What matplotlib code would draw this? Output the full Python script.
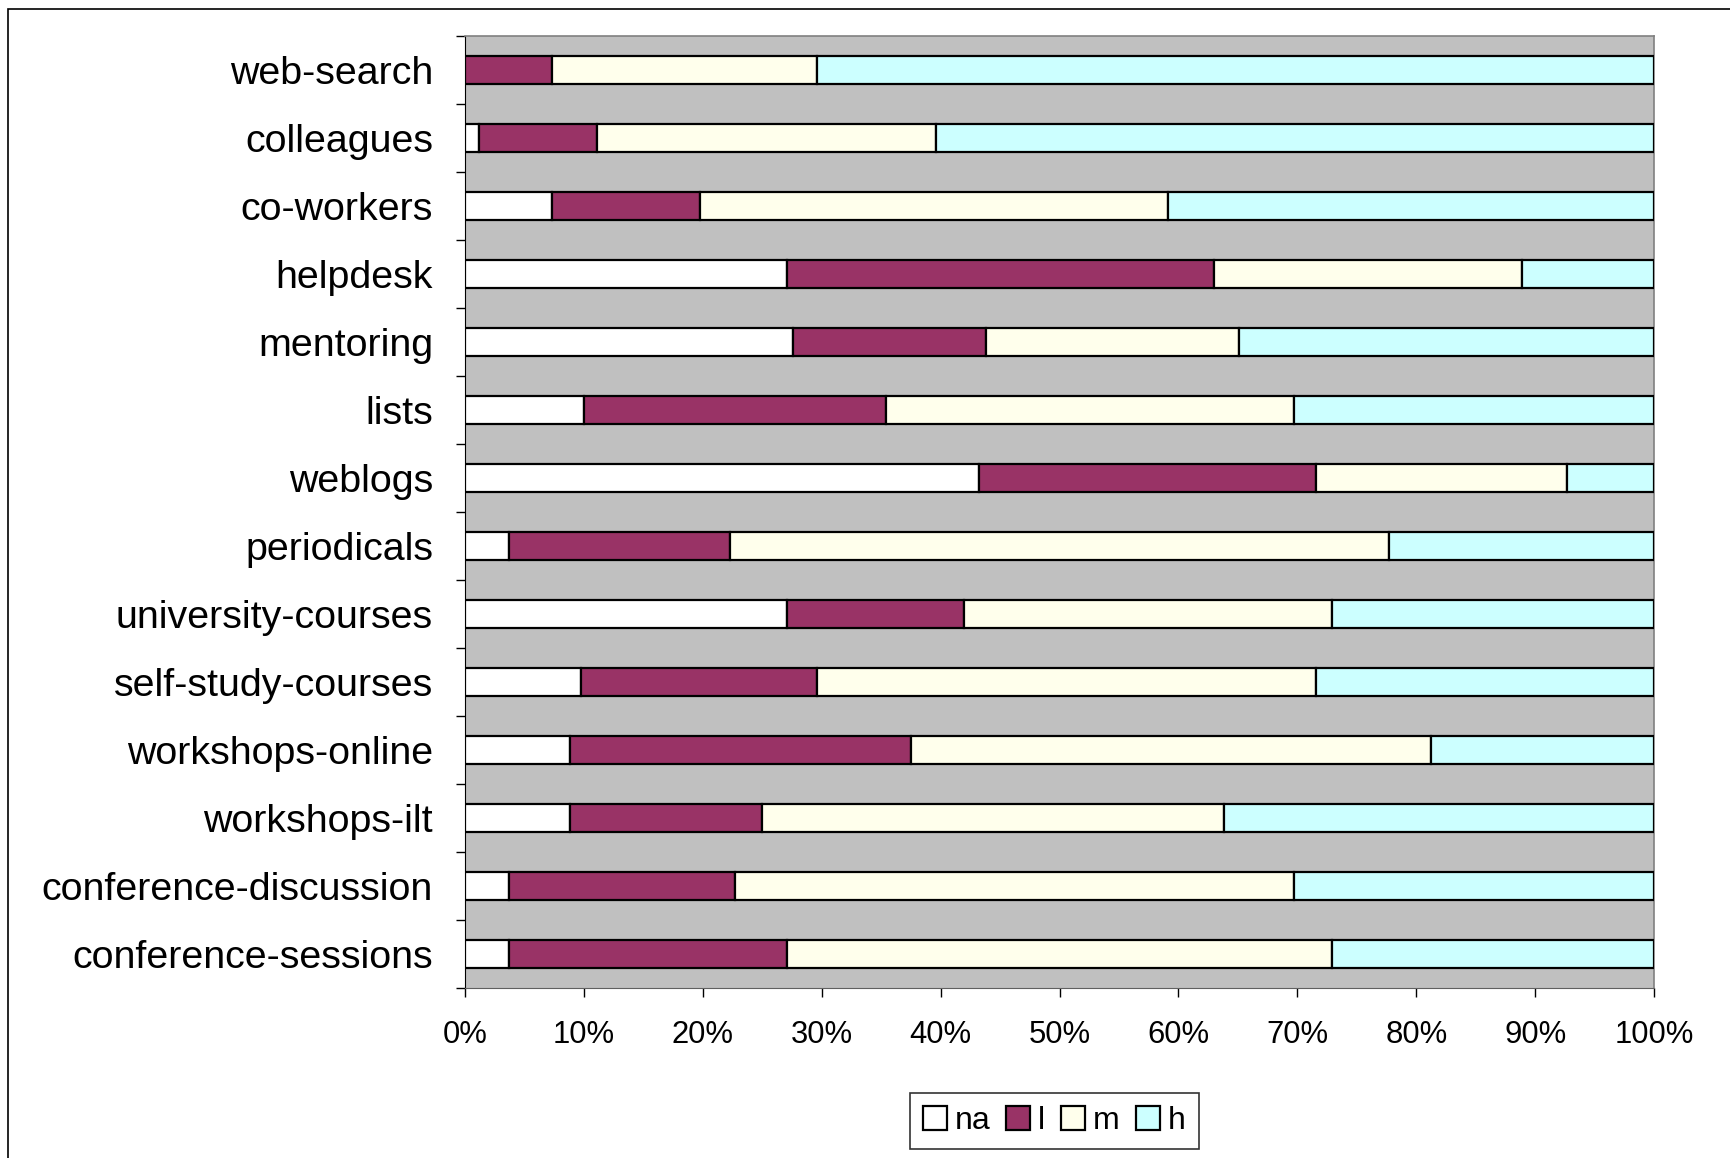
import matplotlib.pyplot as plt
import numpy as np
from matplotlib.patches import Rectangle

plt.rcParams['font.family'] = ['Liberation Sans', 'DejaVu Sans']

# Survey sources, top to bottom as shown in the chart
sources = [
    "web-search", "colleagues", "co-workers", "helpdesk", "mentoring",
    "lists", "weblogs", "periodicals", "university-courses",
    "self-study-courses", "workshops-online", "workshops-ilt",
    "conference-discussion", "conference-sessions",
]

# share of answers (%) per rating
na_vals = [0.0, 1.2, 7.3, 27.1, 27.6, 10.0, 43.2, 3.7, 27.1, 9.8, 8.8, 8.8, 3.7, 3.7]
l_vals = [7.3, 9.9, 12.5, 35.9, 16.2, 25.4, 28.4, 18.6, 14.9, 19.8, 28.7, 16.2, 19.0, 23.4]
m_vals = [22.3, 28.5, 39.3, 25.9, 21.3, 34.3, 21.1, 55.4, 30.9, 42.0, 43.7, 38.8, 47.0, 45.8]
h_vals = [70.4, 60.4, 40.9, 11.1, 34.9, 30.3, 7.3, 22.3, 27.1, 28.4, 18.8, 36.2, 30.3, 27.1]

series_names = ["na", "l", "m", "h"]
series_colors = ["#FFFFFF", "#993366", "#FFFFEC", "#CCFFFF"]

fig = plt.figure(figsize=(17.31, 11.58), dpi=100)
ax = fig.add_axes([0.2686, 0.147, 0.687, 0.822])
ax.set_facecolor("#C0C0C0")

y = np.arange(len(sources))
left = np.zeros(len(sources))
for name, vals, col in zip(series_names, [na_vals, l_vals, m_vals, h_vals], series_colors):
    vals = np.array(vals)
    ax.barh(y, vals, left=left, height=0.41, color=col, edgecolor="black",
            linewidth=1.6, label=name, zorder=3)
    left += vals

ax.set_xlim(0, 100)
ax.set_ylim(len(sources) - 0.5, -0.5)

ax.set_xticks(np.arange(0, 101, 10))
ax.set_xticklabels([f"{v}%" for v in range(0, 101, 10)], fontsize=22.3)
ax.tick_params(axis="x", direction="out", length=6.5, width=1, pad=17, color="black")

ax.set_yticks(y)
ax.set_yticklabels(sources, fontsize=28.4)
ax.tick_params(axis="y", which="major", length=0, pad=23)
ax.set_yticks(np.arange(-0.5, len(sources), 1), minor=True)
ax.tick_params(axis="y", which="minor", direction="out", length=6.5, width=1, color="black")

for side in ["top", "right"]:
    ax.spines[side].set_color("#808080")
    ax.spines[side].set_linewidth(1.2)
ax.spines["left"].set_color("black")
ax.spines["bottom"].set_color("#606060")

leg = ax.legend(loc="center", bbox_to_anchor=(0.609, 0.032), bbox_transform=fig.transFigure,
                ncol=4, fontsize=23, frameon=True, fancybox=False, edgecolor="black",
                handlelength=0.75, handleheight=0.75, handletextpad=0.25, columnspacing=0.5,
                borderpad=0.4, borderaxespad=0)
leg.get_frame().set_linewidth(1.2)

# outer chart border
fig.patches.append(Rectangle((0.0045, -0.05), 1.1, 1.0424, transform=fig.transFigure,
                             fill=False, edgecolor="black", linewidth=1.2))

fig.savefig("out.png", dpi=100)
